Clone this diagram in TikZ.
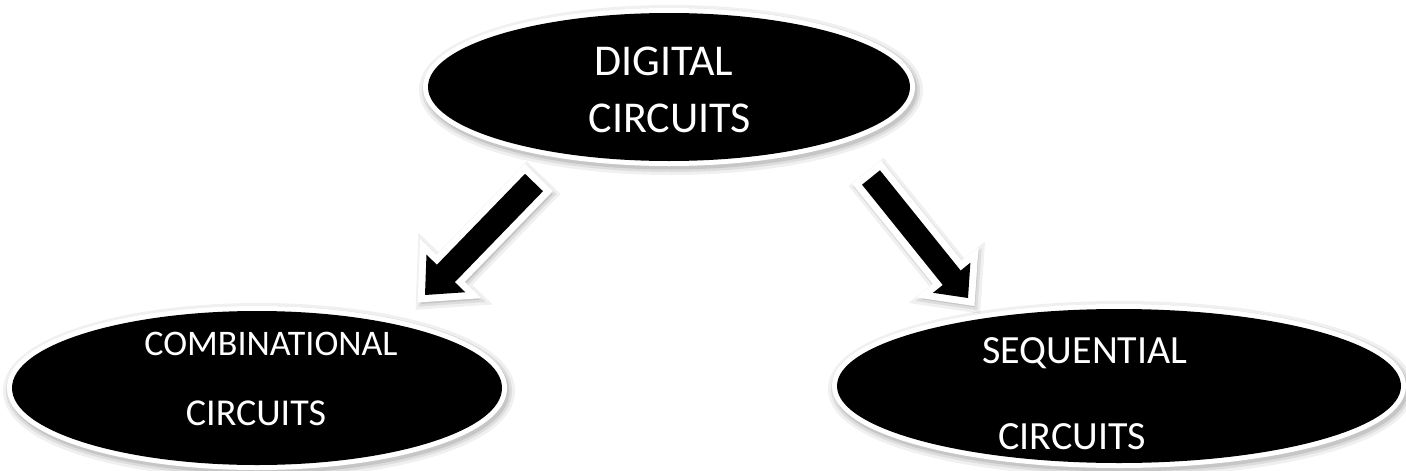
\documentclass[tikz,border=0pt]{standalone}
\usepackage{fontspec}
\setmainfont{Carlito}
\usetikzlibrary{calc}
\begin{document}
\begin{tikzpicture}[x=1pt,y=-1pt,
  softshadow/.style={
    preaction={draw=black,fill=black,draw opacity=0.06,fill opacity=0.06,line width=22pt,transform canvas={shift={(2pt,-3pt)}}},
    preaction={draw=black,fill=black,draw opacity=0.08,fill opacity=0.08,line width=16pt,transform canvas={shift={(2pt,-3pt)}}},
    preaction={draw=black,fill=black,draw opacity=0.10,fill opacity=0.10,line width=11pt,transform canvas={shift={(2pt,-3pt)}}}},
  bubble/.style={softshadow,preaction={draw=white,line width=10pt},fill=black},
  blockarrow/.style={line join=miter,softshadow,preaction={draw=white,line width=14pt,line join=miter},fill=black},
  lbl/.style={text=white,inner sep=0pt,anchor=base,font=\fontsize{40}{48}\selectfont}]
\useasboundingbox (0,0) rectangle (1406,471);
\fill[white] (0,0) rectangle (1406,471);

% ellipses
\path[bubble] (669,87) ellipse [x radius=241, y radius=74];
\node[inner sep=0pt] (top) at (669,87) {};
\path[bubble] (257,388) ellipse [x radius=245, y radius=77];
\node[inner sep=0pt] (comb) at (257,388) {};
\path[bubble] (1119,386) ellipse [x radius=282, y radius=77];
\node[inner sep=0pt] (seq) at (1119,386) {};

% labels
\node[lbl,font=\fontsize{44}{52}\selectfont] (t1) at (664,75) {DIGITAL};
\node[lbl,font=\fontsize{44}{52}\selectfont] (t2) at (670,132) {CIRCUITS};
\node[lbl,font=\fontsize{36}{43}\selectfont] (c1) at (271,355) {COMBINATIONAL};
\node[lbl,font=\fontsize{38}{45}\selectfont] (c2) at (256,425) {CIRCUITS};
\node[lbl] (s1) at (1085,363) {SEQUENTIAL};
\node[lbl] (s2) at (1072,449) {CIRCUITS};

% arrows
\coordinate (LT) at (534,182.5);
\coordinate (LH) at (425,295);
\coordinate (LB) at ($(LH)!30pt!(LT)$);
\path[blockarrow]
  ($(LT)!12.5pt!90:(LH)$) -- ($(LB)!12.5pt!90:(LH)$) -- ($(LB)!27pt!90:(LH)$) --
  (LH) -- ($(LB)!27pt!-90:(LH)$) -- ($(LB)!12.5pt!-90:(LH)$) --
  ($(LT)!12.5pt!-90:(LH)$) -- cycle;

\coordinate (RT) at (871,177.5);
\coordinate (RH) at (968,298);
\coordinate (RB) at ($(RH)!26pt!(RT)$);
\path[blockarrow]
  ($(RT)!11.5pt!90:(RH)$) -- ($(RB)!11.5pt!90:(RH)$) -- ($(RB)!24pt!90:(RH)$) --
  (RH) -- ($(RB)!24pt!-90:(RH)$) -- ($(RB)!11.5pt!-90:(RH)$) --
  ($(RT)!11.5pt!-90:(RH)$) -- cycle;
\end{tikzpicture}
\end{document}
